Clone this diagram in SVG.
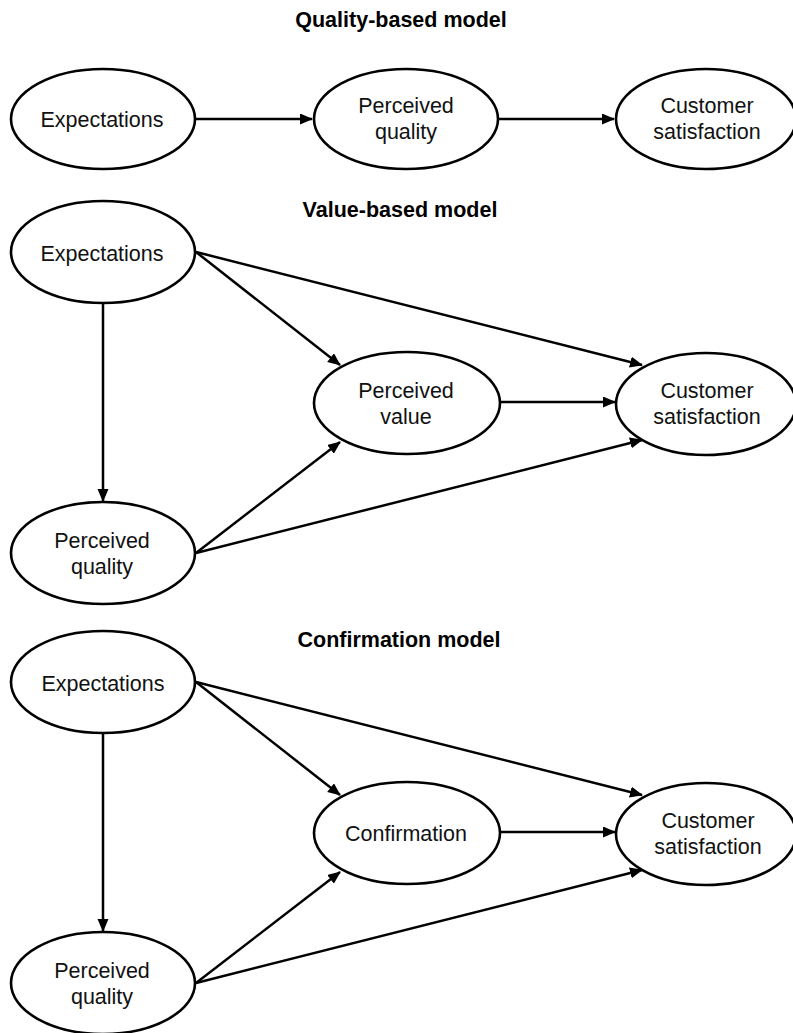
<svg xmlns="http://www.w3.org/2000/svg" width="793" height="1033" viewBox="0 0 793 1033">
<style>
.n{fill:#fff;stroke:#000;stroke-width:2.6}
.t{font-family:"Liberation Sans",Arial,sans-serif;font-size:21.5px;fill:#111;text-anchor:middle}
.h{font-family:"Liberation Sans",Arial,sans-serif;font-size:21.5px;font-weight:bold;fill:#000;text-anchor:middle}
.e{fill:none;stroke:#000;stroke-width:2.5;marker-end:url(#ah)}
</style>
<defs>
<marker id="ah" markerUnits="userSpaceOnUse" markerWidth="14" markerHeight="12" refX="12" refY="5.5" orient="auto">
<path d="M0,0 L13,5.5 L0,11 z" fill="#000"/>
</marker>
</defs>
<rect width="793" height="1033" fill="#fff"/>
<g id="titles">
<text class="h" x="401" y="27">Quality-based model</text>
<text class="h" x="400" y="217">Value-based model</text>
<text class="h" x="399" y="647">Confirmation model</text>
</g>
<g id="connectors">
<path class="e" d="M195,119 L312,119"/>
<path class="e" d="M498,119 L614,119"/>
<path class="e" d="M103,303 L103,501"/>
<path class="e" d="M196,252 L340,365"/>
<path class="e" d="M196,252 L642,365"/>
<path class="e" d="M500,402 L615,402"/>
<path class="e" d="M196,553 L340,442"/>
<path class="e" d="M196,553 L642,440"/>
<path class="e" d="M103,733 L103,931"/>
<path class="e" d="M196,682 L340,795"/>
<path class="e" d="M196,682 L642,795"/>
<path class="e" d="M500,832 L615,832"/>
<path class="e" d="M196,983 L340,872"/>
<path class="e" d="M196,983 L642,870"/>
</g>
<g id="q-expectations"><ellipse class="n" cx="103" cy="119" rx="92" ry="50"/><text class="t" x="102" y="127">Expectations</text></g>
<g id="q-perceived-quality"><ellipse class="n" cx="406" cy="119" rx="92" ry="50"/><text class="t" x="406" y="113">Perceived</text><text class="t" x="406" y="139">quality</text></g>
<g id="q-customer-satisfaction"><ellipse class="n" cx="706" cy="119" rx="90" ry="50"/><text class="t" x="707" y="113">Customer</text><text class="t" x="707" y="139">satisfaction</text></g>

<g id="v-expectations"><ellipse class="n" cx="103" cy="252" rx="92" ry="51"/><text class="t" x="102" y="261">Expectations</text></g>
<g id="v-perceived-value"><ellipse class="n" cx="407" cy="403" rx="93" ry="51"/><text class="t" x="406" y="398">Perceived</text><text class="t" x="406" y="424">value</text></g>
<g id="v-customer-satisfaction"><ellipse class="n" cx="706" cy="404" rx="90" ry="51"/><text class="t" x="707" y="398">Customer</text><text class="t" x="707" y="424">satisfaction</text></g>
<g id="v-perceived-quality"><ellipse class="n" cx="103" cy="553" rx="92" ry="51"/><text class="t" x="102" y="548">Perceived</text><text class="t" x="102" y="574">quality</text></g>

<g id="c-expectations"><ellipse class="n" cx="103" cy="682" rx="92" ry="51"/><text class="t" x="103" y="691">Expectations</text></g>
<g id="c-confirmation"><ellipse class="n" cx="407" cy="833" rx="93" ry="51"/><text class="t" x="406" y="841">Confirmation</text></g>
<g id="c-customer-satisfaction"><ellipse class="n" cx="706" cy="834" rx="90" ry="51"/><text class="t" x="708" y="828">Customer</text><text class="t" x="708" y="854">satisfaction</text></g>
<g id="c-perceived-quality"><ellipse class="n" cx="103" cy="983" rx="92" ry="51"/><text class="t" x="102" y="978">Perceived</text><text class="t" x="102" y="1004">quality</text></g>
</svg>
